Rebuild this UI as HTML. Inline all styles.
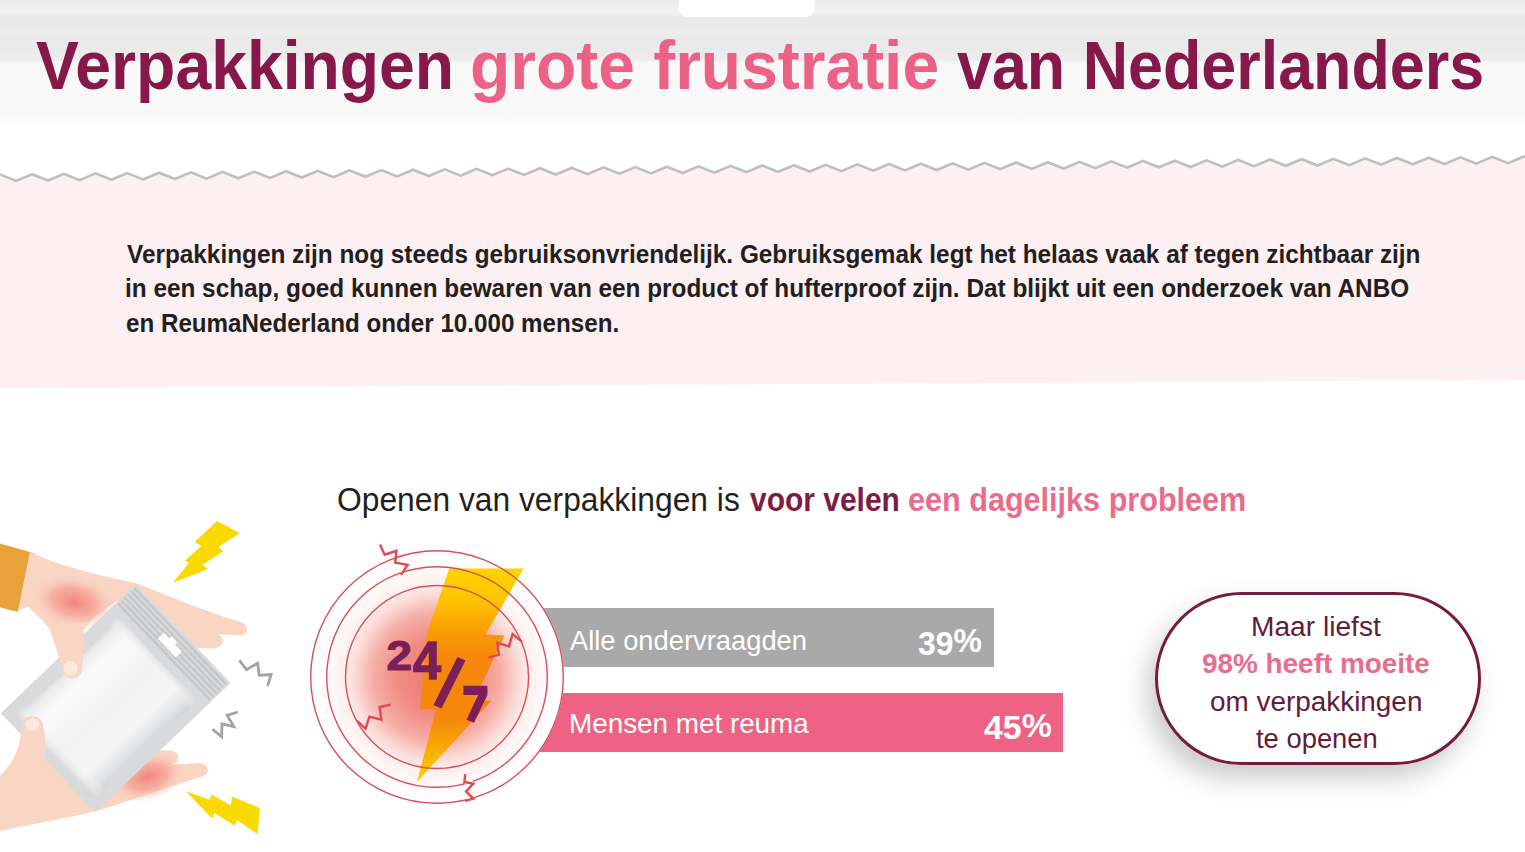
<!DOCTYPE html>
<html><head><meta charset="utf-8">
<style>
html,body{margin:0;padding:0;}
body{width:1525px;height:852px;overflow:hidden;position:relative;background:#fff;font-family:"Liberation Sans",sans-serif;}
.abs{position:absolute;}
#hdr{left:0;top:0;width:1525px;height:135px;
 background:linear-gradient(to bottom,#ececec 0px,#ececec 4px,#f0f0f0 6px,#f0f0f0 14px,#e9e9e9 17px,#e9e9e9 27px,#eeeeee 30px,#ededed 34px,#eaeaea 37px,#eaeaea 50px,#ededed 60px,#f8f8f8 62px,#f9f9f9 117px,#ffffff 126px);}
#tab{left:679px;top:-12px;width:136px;height:29px;background:#fff;border-radius:9px;}
.t{white-space:nowrap;line-height:1;transform-origin:0 0;}
.tm{color:#86194a;}
.tp{color:#ec6286;}
.w{color:#fff;}
.pm{color:#641a3b;}
.pp{color:#ea6c8c;}
.para{white-space:nowrap;font-weight:bold;font-size:26px;line-height:34.85px;color:#231f20;transform-origin:0 0;}
.sub{top:480px;white-space:nowrap;font-size:33px;color:#231f20;line-height:40px;transform-origin:0 0;}
.sub.m{color:#7d1c45;font-weight:bold;}
.sub.p{color:#ea6c8c;font-weight:bold;}
.bar{left:540px;height:58.5px;}
#pill{left:1155px;top:592px;width:320px;height:167px;border:3px solid #761b40;border-radius:90px;background:#fff;box-shadow:-8px 13px 26px rgba(0,0,0,0.21);}
</style></head>
<body>
<div id="hdr" class="abs"></div>
<div id="tab" class="abs"></div>
<div class="abs t tm" style="left:36.05px;top:31.3px;font-size:68px;font-weight:bold;transform:scaleX(0.9455)">Verpakkingen</div>
<div class="abs t tp" style="left:470.3px;top:31.3px;font-size:68px;font-weight:bold;transform:scaleX(0.970)">grote frustratie</div>
<div class="abs t tm" style="left:957px;top:31.3px;font-size:68px;font-weight:bold;transform:scaleX(0.9236)">van Nederlanders</div>

<!-- pink section -->
<svg class="abs" style="left:0;top:0" width="1525" height="852" viewBox="0 0 1525 852">
  <polygon id="pinkpoly" fill="#fcf0f2" points="-15.5,181.3 0.4,174.6 16.2,180.9 32.1,174.2 48.0,180.5 63.8,173.8 79.7,180.1 95.6,173.4 111.5,179.8 127.3,173.1 143.2,179.4 159.1,172.7 174.9,179.0 190.8,172.3 206.7,178.6 222.5,171.9 238.4,178.3 254.3,171.6 270.2,177.9 286.0,171.2 301.9,177.5 317.8,170.8 333.6,177.1 349.5,170.4 365.4,176.8 381.2,170.1 397.1,176.4 413.0,169.7 428.9,176.0 444.7,169.3 460.6,175.6 476.5,168.9 492.3,175.2 508.2,168.6 524.1,174.9 539.9,168.2 555.8,174.5 571.7,167.8 587.6,174.1 603.4,167.4 619.3,173.7 635.2,167.1 651.0,173.4 666.9,166.7 682.8,173.0 698.6,166.3 714.5,172.6 730.4,165.9 746.3,172.2 762.1,165.5 778.0,171.9 793.9,165.2 809.7,171.5 825.6,164.8 841.5,171.1 857.3,164.4 873.2,170.7 889.1,164.0 905.0,170.4 920.8,163.7 936.7,170.0 952.6,163.3 968.4,169.6 984.3,162.9 1000.2,169.2 1016.0,162.5 1031.9,168.9 1047.8,162.2 1063.6,168.5 1079.5,161.8 1095.4,168.1 1111.3,161.4 1127.1,167.7 1143.0,161.0 1158.9,167.3 1174.7,160.7 1190.6,167.0 1206.5,160.3 1222.3,166.6 1238.2,159.9 1254.1,166.2 1270.0,159.5 1285.8,165.8 1301.7,159.2 1317.6,165.5 1333.4,158.8 1349.3,165.1 1365.2,158.4 1381.0,164.7 1396.9,158.0 1412.8,164.3 1428.7,157.7 1444.5,164.0 1460.4,157.3 1476.3,163.6 1492.1,156.9 1508.0,163.2 1523.9,156.5 1539.7,162.8 1555.6,156.1 1560,381 1560,380 -40,388.5"/>
  <polyline id="zig" fill="none" stroke="#bfbfbf" stroke-width="2.6" stroke-linejoin="miter" points="-15.5,181.3 0.4,174.6 16.2,180.9 32.1,174.2 48.0,180.5 63.8,173.8 79.7,180.1 95.6,173.4 111.5,179.8 127.3,173.1 143.2,179.4 159.1,172.7 174.9,179.0 190.8,172.3 206.7,178.6 222.5,171.9 238.4,178.3 254.3,171.6 270.2,177.9 286.0,171.2 301.9,177.5 317.8,170.8 333.6,177.1 349.5,170.4 365.4,176.8 381.2,170.1 397.1,176.4 413.0,169.7 428.9,176.0 444.7,169.3 460.6,175.6 476.5,168.9 492.3,175.2 508.2,168.6 524.1,174.9 539.9,168.2 555.8,174.5 571.7,167.8 587.6,174.1 603.4,167.4 619.3,173.7 635.2,167.1 651.0,173.4 666.9,166.7 682.8,173.0 698.6,166.3 714.5,172.6 730.4,165.9 746.3,172.2 762.1,165.5 778.0,171.9 793.9,165.2 809.7,171.5 825.6,164.8 841.5,171.1 857.3,164.4 873.2,170.7 889.1,164.0 905.0,170.4 920.8,163.7 936.7,170.0 952.6,163.3 968.4,169.6 984.3,162.9 1000.2,169.2 1016.0,162.5 1031.9,168.9 1047.8,162.2 1063.6,168.5 1079.5,161.8 1095.4,168.1 1111.3,161.4 1127.1,167.7 1143.0,161.0 1158.9,167.3 1174.7,160.7 1190.6,167.0 1206.5,160.3 1222.3,166.6 1238.2,159.9 1254.1,166.2 1270.0,159.5 1285.8,165.8 1301.7,159.2 1317.6,165.5 1333.4,158.8 1349.3,165.1 1365.2,158.4 1381.0,164.7 1396.9,158.0 1412.8,164.3 1428.7,157.7 1444.5,164.0 1460.4,157.3 1476.3,163.6 1492.1,156.9 1508.0,163.2 1523.9,156.5 1539.7,162.8 1555.6,156.1"/>
</svg>

<div class="abs para" style="left:126.5px;top:236.5px;transform:scaleX(0.9364)">Verpakkingen zijn nog steeds gebruiksonvriendelijk. Gebruiksgemak legt het helaas vaak af tegen zichtbaar zijn</div>
<div class="abs para" style="left:125px;top:271.35px;transform:scaleX(0.9364)">in een schap, goed kunnen bewaren van een product of hufterproof zijn. Dat blijkt uit een onderzoek van ANBO</div>
<div class="abs para" style="left:126px;top:306.2px;transform:scaleX(0.930)">en ReumaNederland onder 10.000 mensen.</div>

<div class="abs sub" style="left:336.9px;transform:scaleX(0.963)">Openen van verpakkingen is</div>
<div class="abs sub m" style="left:750px;transform:scaleX(0.908)">voor velen</div>
<div class="abs sub p" style="left:907.6px;transform:scaleX(0.927)">een dagelijks probleem</div>

<div class="abs bar" style="top:608px;width:454px;background:#aaa9aa;"></div>
<div class="abs bar" style="top:693px;width:523px;background:#ee6283;"></div>
<div class="abs t w" style="left:570.2px;top:627.4px;font-size:28px;transform:scaleX(0.976)">Alle ondervraagden</div>
<div class="abs t w" style="left:918.1px;top:624.1px;font-size:33px;font-weight:bold;transform:scaleX(0.966)"><span style="position:relative;top:3px">39</span>%</div>
<div class="abs t w" style="left:568.6px;top:710.3px;font-size:28px;transform:scaleX(0.994)">Mensen met reuma</div>
<div class="abs t w" style="left:983.7px;top:708.6px;font-size:33px;font-weight:bold;transform:scaleX(1.025)"><span style="position:relative;top:2.5px">45</span>%</div>



<!-- left illustration -->
<svg class="abs" style="left:0;top:0" width="300" height="852" viewBox="0 0 300 852">
  <defs>
    <radialGradient id="sore1" cx="0" cy="0" r="1" gradientUnits="objectBoundingBox" fx="0.5" fy="0.5">
      <stop offset="0" stop-color="#f08a80"/>
      <stop offset="0.45" stop-color="#f49e92" stop-opacity="0.85"/>
      <stop offset="1" stop-color="#f9d3c2" stop-opacity="0"/>
    </radialGradient>
    <radialGradient id="soreg" cx="0.5" cy="0.5" r="0.5">
      <stop offset="0" stop-color="#f2857c"/>
      <stop offset="0.5" stop-color="#f5a497" stop-opacity="0.8"/>
      <stop offset="1" stop-color="#f9d4c3" stop-opacity="0"/>
    </radialGradient>
    <linearGradient id="pouchg" x1="0" y1="0" x2="1" y2="0">
      <stop offset="0" stop-color="#d3d4d6"/>
      <stop offset="0.07" stop-color="#ececed"/>
      <stop offset="0.2" stop-color="#fbfbfb"/>
      <stop offset="0.5" stop-color="#f2f2f3"/>
      <stop offset="0.78" stop-color="#f6f6f7"/>
      <stop offset="0.9" stop-color="#e4e5e6"/>
      <stop offset="1" stop-color="#d0d1d3"/>
    </linearGradient>
    <linearGradient id="pouchv" x1="0" y1="0" x2="0" y2="1">
      <stop offset="0" stop-color="#d5d6d8" stop-opacity="0.9"/>
      <stop offset="0.1" stop-color="#ffffff" stop-opacity="0"/>
      <stop offset="0.88" stop-color="#ffffff" stop-opacity="0"/>
      <stop offset="1" stop-color="#cfd0d2" stop-opacity="0.9"/>
    </linearGradient>
  </defs>
  <!-- sleeve -->
  <polygon fill="#e9a23b" points="-5,542 35,553.5 17.8,612 -5,606"/>
  <!-- upper hand (behind package) -->
  <path fill="#f9d5c3" d="M 30,552 L 35,554 C 60,566 90,573 137,583.5 C 170,596 205,612 240,621.5 C 249,624 250,634 241,635.5 L 218,634.5 C 225,637 225,648 213,648.5 L 200,648 L 160,640 L 118,601 C 108,606 95,616 84,628 L 82.5,668 C 82,680 66,682 63,672 C 60,660 56,645 50,630 C 45,622 36,614 28,607 L 18,610 Z"/>
  <ellipse cx="74" cy="602" rx="44" ry="27" fill="url(#soreg)" transform="rotate(12 74 602)"/>
  <!-- lower hand palm (behind package) -->
  <path fill="#f9d5c3" d="M 0,776 C 12,764 18,752 20,742 L 40,740 L 150,752 C 165,749 178,750 178,756 C 179,762 172,765 168,765 L 200,763 C 210,764 211,776 200,777 C 180,784 140,797 100,810 C 70,818 30,824 0,831 Z"/>
  <ellipse cx="148" cy="777" rx="40" ry="24" fill="url(#soreg)" transform="rotate(-18 148 777)"/>
  <!-- package -->
  <g transform="translate(136,584) rotate(46.3)">
    <rect x="0" y="0" width="137" height="187" fill="#d9dadb"/>
    <g stroke="#c6c7c9" stroke-width="2.6">
      <line x1="2" y1="4" x2="135" y2="4"/>
      <line x1="2" y1="8.5" x2="135" y2="8.5"/>
      <line x1="2" y1="13" x2="135" y2="13"/>
      <line x1="2" y1="17.5" x2="135" y2="17.5"/>
      <line x1="2" y1="22" x2="135" y2="22"/>
      <line x1="2" y1="26.5" x2="135" y2="26.5"/>
    </g>
    <path fill="#ffffff" d="M 54.5,13.5 L 62.5,13.5 L 62.5,10.5 L 70.5,10.5 L 70.5,13.5 L 79.5,13.5 Q 80.5,13.5 80.5,14.5 L 80.5,21 Q 80.5,22 79.5,22 L 55.5,22 Q 54.5,22 54.5,21 Z"/>
    <path fill="url(#pouchg)" d="M 18,34 Q 68,40 118,34 Q 127,34 128,44 Q 118,108 127,170 Q 127,179 118,180 Q 68,174 18,180 Q 10,179 10,170 Q 20,108 11,44 Q 11,34 18,34 Z"/>
    <path fill="url(#pouchv)" d="M 18,34 Q 68,40 118,34 Q 127,34 128,44 Q 118,108 127,170 Q 127,179 118,180 Q 68,174 18,180 Q 10,179 10,170 Q 20,108 11,44 Q 11,34 18,34 Z"/>
  </g>
  <!-- upper thumb (front) -->
  <path fill="#f9d5c3" d="M 50,626 L 90,622 L 84,630 L 82.5,668 C 82,680 66,682 63,672 C 60,660 56,645 50,630 Z"/>
  <ellipse cx="70.5" cy="668.5" rx="7" ry="7.5" fill="#fbe8de"/>
  <!-- lower thumb (front) -->
  <path fill="#f9d5c3" d="M 23,722 C 26,714 40,714 43,724 C 45,735 46,750 45,765 L 0,790 L 0,776 C 12,764 18,752 20,740 Z"/>
  <ellipse cx="32.5" cy="724.5" rx="7" ry="6.5" fill="#fbe8de"/>
  <!-- bolts -->
  <polygon fill="#fad900" points="217,521.1 239.7,533.2 218.1,547 223.4,551.2 202.2,564.9 208,569.1 172.7,582.9 189,562.8 184.8,560.7 201.2,545.9 194.8,541.7"/>
  <polygon fill="#fad900" points="186,791.3 209.6,799.7 211.3,794.4 230.7,805.4 232.1,796.5 259.9,808.2 257.5,834.2 237,820.1 234.9,825.8 214.5,813.1 212,818.4"/>
  <!-- zigzags -->
  <g fill="none" stroke="#a3a3a3" stroke-width="2.8">
    <polyline points="239.4,660.4 246.5,669.6 257.7,663.2 259.2,675.2 271.1,674.5 267.6,685.8"/>
    <polyline points="212.5,729.2 221.7,736.9 221.9,723.8 233.9,726.6 227.1,715.3 237.9,712"/>
  </g>
</svg>

<!-- 24/7 graphic -->
<svg class="abs" style="left:0;top:0" width="1525" height="852" viewBox="0 0 1525 852">
  <defs>
    <radialGradient id="glow" cx="437" cy="677" r="127" gradientUnits="userSpaceOnUse">
      <stop offset="0" stop-color="#ef7670"/>
      <stop offset="0.3" stop-color="#f18b82"/>
      <stop offset="0.5" stop-color="#f5ada5"/>
      <stop offset="0.64" stop-color="#fbd9d5"/>
      <stop offset="0.74" stop-color="#fff0ef"/>
      <stop offset="0.86" stop-color="#fffafa"/>
      <stop offset="1" stop-color="#ffffff"/>
    </radialGradient>
    <linearGradient id="boltg" x1="0" y1="568" x2="0" y2="782" gradientUnits="userSpaceOnUse">
      <stop offset="0" stop-color="#ffd400"/>
      <stop offset="0.14" stop-color="#fdc600"/>
      <stop offset="0.3" stop-color="#f89c04"/>
      <stop offset="0.42" stop-color="#f5870c"/>
      <stop offset="0.7" stop-color="#f5870c"/>
      <stop offset="0.86" stop-color="#f9ae00"/>
      <stop offset="1" stop-color="#fdd400"/>
    </linearGradient>
  </defs>
  <circle cx="437" cy="677" r="127" fill="url(#glow)"/>
  <polygon fill="url(#boltg)" points="449.2,568.5 523.5,568.5 485.5,634.5 504.5,635.5 474,700.5 491.5,700.5 417,782 436,709.5 420,708.5 427,633"/>
  <g fill="none" stroke="#d4505a" stroke-width="1.4">
    <circle cx="437" cy="677" r="126.3"/>
    <circle cx="437" cy="677" r="110.3"/>
    <circle cx="437" cy="677" r="91.5"/>
  </g>
  <g fill="none" stroke="#fdf6f6" stroke-width="3">
    <line x1="464.5" y1="782.9" x2="473" y2="782.2"/>
    <line x1="466" y1="799.6" x2="472" y2="799"/>
  </g>
  <g fill="none" stroke="#e04a50" stroke-width="2.4" stroke-linejoin="miter">
    <polyline points="380,544.4 384.7,554.7 396.4,550.8 395.2,562.6 407.6,564.9 401.1,574.9"/>
    <polyline points="488.2,657.6 498.8,654.6 497.3,642.9 509,646.4 512.6,634.1 522,641.7"/>
    <polyline points="357,720.8 365.6,728.7 369.4,716.7 381.4,719.6 379.6,707 390.5,704.7"/>
    <polyline points="465.2,774.1 464.4,782 473.2,783.8 466.1,791.4 473.2,798.7 465,800.8"/>
  </g>
  <g fill="#7a1f58">
    <text transform="translate(386.5,669.5) scale(1.09,1.0)" font-family="Liberation Sans" font-weight="bold" font-size="42" stroke="#7a1f58" stroke-width="1.2">2</text>
    <text transform="translate(413,678.5) scale(1.2,1.28)" font-family="Liberation Sans" font-weight="bold" font-size="42" stroke="#7a1f58" stroke-width="1.2">4</text>
    <polygon points="457.5,657 465.5,660.5 441.5,708.5 433.5,705"/>
    <polygon points="463.4,685.8 487.4,685.8 487.4,695 474,722.8 466.5,719.8 478,695 463.4,695"/>
  </g>
</svg>

<div id="pill" class="abs"></div>
<div class="abs t pm" style="left:1251px;top:614px;font-size:27px;transform:scaleX(1.042)">Maar liefst</div>
<div class="abs t pp" style="left:1202px;top:650.8px;font-size:27px;font-weight:bold;transform:scaleX(1.033)">98% heeft moeite</div>
<div class="abs t pm" style="left:1210.3px;top:689.4px;font-size:27px;transform:scaleX(1.033)">om verpakkingen</div>
<div class="abs t pm" style="left:1256.4px;top:726px;font-size:27px;transform:scaleX(1.014)">te openen</div>

</body></html>
